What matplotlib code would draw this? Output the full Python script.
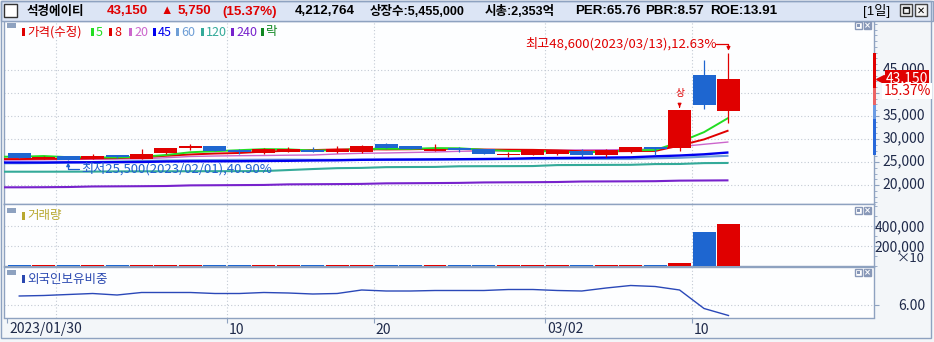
import numpy as np
import matplotlib
matplotlib.use('Agg')
import matplotlib.pyplot as plt
import matplotlib.transforms as mtransforms
from matplotlib.patches import Rectangle
from matplotlib.ticker import MultipleLocator

# ---- daily data, 석경에이티 (adjusted price) ----
dates = ['2023/01/30', '2023/01/31', '2023/02/01', '2023/02/02', '2023/02/03',
         '2023/02/06', '2023/02/07', '2023/02/08', '2023/02/09', '2023/02/10',
         '2023/02/13', '2023/02/14', '2023/02/15', '2023/02/16', '2023/02/17',
         '2023/02/20', '2023/02/21', '2023/02/22', '2023/02/23', '2023/02/24',
         '2023/02/27', '2023/02/28', '2023/03/02', '2023/03/03', '2023/03/06',
         '2023/03/07', '2023/03/08', '2023/03/09', '2023/03/10', '2023/03/13']
opens = [27000, 25600, 26350, 25600, 26550, 25650, 26850, 28100, 28450, 27700,
         26850, 27200, 27700, 27100, 27200, 28900, 28500, 27500, 28050, 27850,
         26600, 26500, 26750, 27500, 26600, 27100, 28300, 28000, 43900, 36150]
highs = [27050, 26350, 26400, 26650, 26600, 27850, 28150, 28850, 28500, 27750,
         28100, 28250, 28300, 28400, 28700, 29200, 28550, 28900, 28300, 27900,
         27150, 27650, 27650, 27800, 27800, 28350, 28350, 36250, 47100, 48600]
lows = [25900, 25550, 25500, 25550, 25950, 25600, 26800, 27650, 27450, 26650,
        26800, 27150, 27100, 26850, 26950, 28000, 27850, 27450, 27250, 26750,
        26150, 26450, 26600, 26150, 26150, 27050, 26450, 27450, 36600, 33400]
closes = [25950, 26100, 25500, 26350, 26000, 26700, 28100, 28450, 27500, 27100,
          27850, 27850, 27150, 27850, 28450, 28050, 27850, 27900, 27650, 26800,
          26800, 27600, 27600, 26600, 27600, 28300, 27900, 36250, 37400, 43150]

# moving averages as drawn on the chart
ma5 = [26150, 26300, 26050, 26000, 25980, 26130, 26530, 27120, 27350, 27570,
       27800, 27750, 27490, 27560, 27830, 27870, 27870, 28020, 27980, 27650,
       27400, 27350, 27290, 27080, 27240, 27540, 27600, 29330, 31490, 34600]
ma8 = [25640, 25690, 25690, 25790, 25840, 26050, 26350, 26640, 26840, 26960,
       27260, 27440, 27590, 27730, 27780, 27730, 27770, 27870, 27840, 27710,
       27670, 27640, 27530, 27350, 27320, 27370, 27400, 28580, 29910, 31850]
ma20 = [25430, 25480, 25540, 25610, 25650, 25700, 25930, 26200, 26300, 26370,
        26410, 26480, 26520, 26740, 26890, 26960, 27070, 27170, 27330, 27390,
        27440, 27540, 27570, 27630, 27650, 27720, 27830, 28330, 28850, 29350]
ma45 = [24890, 24890, 24930, 24930, 24960, 25000, 25110, 25150, 25150, 25170,
        25220, 25260, 25330, 25370, 25480, 25520, 25540, 25570, 25610, 25650,
        25700, 25830, 25870, 25910, 25960, 26020, 26240, 26410, 26670, 27070]
ma60 = [24720, 24780, 24890, 25000, 25110, 25220, 25330, 25390, 25430, 25480,
        25500, 25520, 25480, 25480, 25480, 25500, 25520, 25540, 25570, 25590,
        25610, 25630, 25650, 25650, 25650, 25650, 25800, 25910, 26150, 26350]
ma120 = [22890, 22890, 22900, 22910, 22960, 22970, 22980, 22990, 23000, 23010,
         23030, 23250, 23470, 23660, 23720, 23880, 23910, 23930, 24070, 24090,
         24100, 24120, 24330, 24350, 24370, 24390, 24550, 24570, 24760, 24790]
ma240 = [19500, 19520, 19560, 19680, 19710, 19740, 19780, 19920, 19950, 19980,
         20010, 20140, 20170, 20200, 20240, 20360, 20390, 20420, 20460, 20560,
         20590, 20610, 20650, 20760, 20780, 20800, 20830, 20950, 20980, 21010]

# volume (x10 shares) and foreign ownership (%)
volume = [9000, 7000, 8500, 6500, 6000, 7500, 11000, 10000, 7000, 6500,
          6800, 6000, 5500, 6200, 8000, 7500, 6000, 6300, 5800, 6600,
          5200, 7200, 6400, 6900, 6100, 7800, 8800, 30000, 340000, 421276]
foreign = [6.18, 6.19, 6.21, 6.23, 6.20, 6.25, 6.25, 6.25, 6.23, 6.23,
           6.25, 6.24, 6.22, 6.23, 6.30, 6.28, 6.28, 6.29, 6.29, 6.29,
           6.31, 6.31, 6.29, 6.28, 6.34, 6.39, 6.37, 6.30, 5.93, 5.79]

tick_idx = [0, 9, 15, 22, 28]
tick_labels = ['2023/01/30', '10', '20', '03/02', '10']
grid_idx = [2, 9, 15, 22, 28]
price_ticks = [20000, 25000, 30000, 35000, 40000, 45000]
vol_ticks = [200000, 400000]
foreign_ticks = [6.00]

# price-range strip on the right scale
range_top = [48600, 41150, 37400, 34400]
range_bot = [41150, 37400, 34400, 26600]
range_colors = ['#E00000', '#EC6464', '#6C9CE4', '#2868DA']

ma_names = ['5', '8', '20', '45', '60', '120', '240']
ma_colors = ['#22DD22', '#E00000', '#CC66CC', '#0000EE', '#6E9ED6', '#33AA99', '#7722CC']

header = ['석경에이티', '43,150', '▲', '5,750', '(15.37%)', '4,212,764',
          '상장수:5,455,000', '시총:2,353억', 'PER:65.76', 'PBR:8.57', 'ROE:13.91']

RED = '#E00000'
BLUE = '#1E66D0'
FRAME = '#8EA2C0'
GRID = '#C3CAD4'
LABEL = '#1F2A4A'
PANEL_BG = '#FDFEFF'
FONT_N = ['Liberation Sans Narrow', 'Noto Sans CJK KR', 'DejaVu Sans']
FONT_B = ['Liberation Sans', 'Noto Sans CJK KR', 'DejaVu Sans']
plt.rcParams['font.family'] = FONT_N

W, H = 934, 342
PX = 0.72  # points per pixel


def box(x0, y0, x1, y1):
    return [x0 / W, 1 - y1 / H, (x1 - x0) / W, (y1 - y0) / H]


fig = plt.figure(figsize=(W / 100, H / 100), dpi=100, facecolor='#F3F6F9')
ax_p = fig.add_axes(box(4, 20.5, 874, 204))
ax_v = fig.add_axes(box(4, 204, 874, 265.7))
ax_f = fig.add_axes(box(4, 266.7, 874, 317.5))
XL = (-0.123, 35.45)

o, h, l, c = map(np.array, (opens, highs, lows, closes))
x = np.arange(len(c)) + 0.5
up = c >= o
col = np.where(up, RED, BLUE)

for a in (ax_p, ax_v, ax_f):
    a.set_xlim(XL)
    a.set_facecolor(PANEL_BG)
    for s in a.spines.values():
        s.set_color(FRAME)
        s.set_linewidth(1)
    a.tick_params(axis='x', bottom=False, labelbottom=False)
    a.yaxis.tick_right()
    a.tick_params(axis='y', which='both', direction='out', color=FRAME,
                  labelcolor=LABEL, labelsize=10, pad=33.1)
    a.tick_params(axis='y', which='major', length=5 * PX)
    a.tick_params(axis='y', which='minor', length=3 * PX)
    for g in grid_idx:
        a.axvline(g, color=GRID, lw=0.8, ls=(0, (1, 2)), zorder=0.5)

# ---- price panel ----
ax_p.set_ylim(15870, 55760)
ax_p.set_yticks(price_ticks, [f'{v:,}' for v in price_ticks])
ax_p.yaxis.set_minor_locator(MultipleLocator(1250))
for v in price_ticks:
    ax_p.axhline(v, color=GRID, lw=0.8, ls=(0, (1, 2)), zorder=0.5)

mas = [ma5, ma8, ma20, ma45, ma60, ma120, ma240]
widths = [1.4, 1.4, 1.0, 1.7, 1.5, 1.5, 1.5]
for m, cc, lw in reversed(list(zip(mas, ma_colors, widths))):
    ax_p.plot(np.r_[XL[0], x], np.r_[m[0], m], color=cc, lw=lw, zorder=3,
              solid_capstyle='butt')

ax_p.vlines(x, l, h, colors=col, lw=0.9, zorder=4)
ax_p.bar(x, np.maximum(np.abs(c - o), 90), bottom=np.minimum(o, c), width=0.94,
         color=col, zorder=4)

hi_i = int(np.argmax(h))
lo_i = int(np.argmin(l))
last = c[-1]
ax_p.annotate(f'최고{h[hi_i]:,}({dates[hi_i]}),{(h[hi_i] - last) / last * 100:.2f}%',
              xy=(x[hi_i], h[hi_i]), xytext=(-12 * PX, 9.5 * PX),
              textcoords='offset points', ha='right', va='center',
              color=RED, fontsize=9.5, zorder=6)
ax_p.annotate('', xy=(x[hi_i], h[hi_i]), xytext=(-12 * PX, 9.5 * PX),
              textcoords='offset points',
              arrowprops=dict(arrowstyle='-|>', color=RED, lw=0.9, shrinkA=0,
                              shrinkB=2, mutation_scale=5,
                              connectionstyle='angle,angleA=0,angleB=90,rad=0'))
ax_p.annotate(f'최저{l[lo_i]:,}({dates[lo_i]}),{(last - l[lo_i]) / last * 100:.2f}%',
              xy=(x[lo_i], l[lo_i]), xytext=(13 * PX, -9.5 * PX),
              textcoords='offset points', ha='left', va='center',
              color='#2060D0', fontsize=9.5, zorder=6)
ax_p.annotate('', xy=(x[lo_i], l[lo_i]), xytext=(11 * PX, -9.5 * PX),
              textcoords='offset points',
              arrowprops=dict(arrowstyle='-|>', color='#2060D0', lw=0.9, shrinkA=0,
                              shrinkB=2, mutation_scale=5,
                              connectionstyle='angle,angleA=0,angleB=90,rad=0'))
for i in range(1, len(c)):
    if c[i] >= c[i - 1] * 1.29:
        ax_p.annotate('상', xy=(x[i], h[i]), xytext=(0, 17 * PX),
                      textcoords='offset points', ha='center', va='center',
                      color=RED, fontsize=7,
                      arrowprops=dict(arrowstyle='-|>', color=RED, lw=0.9,
                                      shrinkA=4, shrinkB=2, mutation_scale=5))

# ---- volume panel ----
ax_v.set_ylim(0, 617000)
ax_v.bar(x, volume, width=0.94, color=col, zorder=3)
ax_v.set_yticks(vol_ticks, [f'{v:,}' for v in vol_ticks])
ax_v.yaxis.set_minor_locator(MultipleLocator(100000))
for v in vol_ticks:
    ax_v.axhline(v, color=GRID, lw=0.8, ls=(0, (1, 2)), zorder=0.5)

# ---- foreign ownership panel ----
ax_f.set_ylim(5.75, 6.766)
ax_f.plot(x, foreign, color='#2A48B8', lw=1.0, zorder=3)
ax_f.set_yticks(foreign_ticks, [f'{v:.2f}' for v in foreign_ticks])
for v in foreign_ticks:
    ax_f.axhline(v, color=GRID, lw=0.8, ls=(0, (1, 2)), zorder=0.5)
ax_f.tick_params(axis='x', bottom=True, labelbottom=True, direction='out',
                 length=5 * PX, color=FRAME, labelcolor=LABEL, labelsize=10, pad=0)
ax_f.set_xticks(tick_idx, tick_labels)
shift = mtransforms.ScaledTranslation(2 / 100, 0, fig.dpi_scale_trans)
for t in ax_f.get_xticklabels():
    t.set_ha('left')
    t.set_transform(t.get_transform() + shift)

for a in (ax_p, ax_v, ax_f):
    for t in a.get_yticklabels():
        t.set_ha('right')
lift = mtransforms.ScaledTranslation(0, 2.5 / 100, fig.dpi_scale_trans)
for t in ax_p.get_yticklabels():
    t.set_transform(t.get_transform() + lift)

# ---- overlay: frame, header, legends, scale markers ----
ov = fig.add_axes([0, 0, 1, 1], zorder=5)
ov.set_xlim(0, W)
ov.set_ylim(H, 0)
ov.axis('off')
ov.patch.set_alpha(0)

ov.add_patch(Rectangle((0.5, 0.5), W - 2, 20, fc='#DCE5F5', ec=FRAME, lw=1))
ov.add_patch(Rectangle((0.5, 0.5), W - 4, 337.5, fill=False, ec=FRAME, lw=1))
ov.add_patch(Rectangle((4, 4), 13, 13, fc='white', ec='#333333', lw=1))
head_x = [27, 107, 160, 178, 222, 295, 370, 485, 575, 645, 710]
head_c = ['black', RED, RED, RED, RED, 'black', 'black', 'black', 'black', 'black', 'black']
for hx, txt, hc in zip(head_x, header, head_c):
    ov.text(hx, 11.5, txt, color=hc, fontsize=9.6 if txt[0].isascii() else 9,
            fontweight='bold', family=FONT_B, ha='left', va='center')
ov.text(863, 11.5, '[1일]', color='black', fontsize=9.5, family=FONT_B,
        ha='left', va='center')
for bx in (900, 915):
    ov.add_patch(Rectangle((bx, 4), 12, 12, fc='#F4F4F4', ec='#444444', lw=1))
ov.add_patch(Rectangle((903, 7), 6, 6, fill=False, ec='#222222', lw=1))
ov.add_patch(Rectangle((903, 7), 6, 2, fc='#222222', ec='none'))
ov.text(921, 10.5, '✕', fontsize=7, fontweight='bold', ha='center', va='center',
        family=['DejaVu Sans'])

# panel icons and buttons
for top in (22, 207, 269):
    ov.add_patch(Rectangle((7, top + 1), 9, 5, fc='#8EA2C0', ec='none'))
    ov.add_patch(Rectangle((855, top), 7, 7, fc='white', ec='#8898B8', lw=1))
    ov.add_patch(Rectangle((857, top + 2), 3, 3, fc='#8898B8', ec='none'))
    ov.add_patch(Rectangle((864, top), 7, 7, fc='#8898B8', ec='#8898B8', lw=1))
    ov.text(867.5, top + 3.7, '×', color='white', fontsize=6, ha='center',
            va='center', family=['DejaVu Sans'], fontweight='bold')

# legends
leg_labels = ['가격(수정)'] + ma_names + ['락']
leg_colors = [RED] + ma_colors + ['#118822']
leg_x = [27, 96, 114, 134, 158, 181, 206, 236, 266]
for lx, lab, lc in zip(leg_x, leg_labels, leg_colors):
    ov.add_patch(Rectangle((lx - 5, 28), 3, 8, fc=lc, ec='none'))
    ov.text(lx, 32, lab, color=lc, fontsize=9, ha='left', va='center')
ov.add_patch(Rectangle((22, 212), 3, 8, fc='#B8A830', ec='none'))
ov.text(27, 216, '거래량', color='#B8A830', fontsize=9, ha='left', va='center')
ov.add_patch(Rectangle((22, 275), 3, 8, fc='#2A48B0', ec='none'))
ov.text(27, 279, '외국인보유비중', color='#2A48B0', fontsize=9, ha='left', va='center')
ov.text(925, 258.5, '×10', color=LABEL, fontsize=9.5, ha='right', va='center')

# right scale: range strip, last price marker
bt = mtransforms.blended_transform_factory(fig.transFigure, ax_p.transData)
for top_v, bot_v, rc in zip(range_top, range_bot, range_colors):
    ov.add_patch(Rectangle((872.5 / W, bot_v), 3.5 / W, top_v - bot_v,
                           transform=bt, fc=rc, ec='none', clip_on=False))
ov.plot([880 / W], [last], marker='<', ms=6, color=RED, transform=bt, clip_on=False)
ov.text(907 / W, last, f'{last:,}', transform=bt, ha='center', va='center',
        color='white', fontsize=10, clip_on=False,
        bbox=dict(boxstyle='square,pad=0.08', fc=RED, ec='none'))
pct = (c[-1] - c[-2]) / c[-2] * 100
down = bt + mtransforms.ScaledTranslation(0, -12.5 / 100, fig.dpi_scale_trans)
ov.text(907 / W, last, f'{pct:.2f}%', transform=down, ha='center', va='center',
        color=RED, fontsize=10, clip_on=False,
        bbox=dict(boxstyle='square,pad=0.08', fc='white', ec='none'))

fig.savefig('out.png', dpi=100, facecolor=fig.get_facecolor())
